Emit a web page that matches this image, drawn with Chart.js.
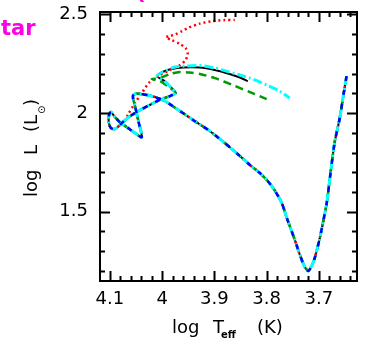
<!DOCTYPE html>
<html>
<head>
<meta charset="utf-8">
<script src="https://cdn.jsdelivr.net/npm/chart.js@4.4.0/dist/chart.umd.min.js"></script>
<style>
  html, body { margin: 0; padding: 0; background: #fff; }
  canvas { display: block; }
</style>
</head>
<body>
<canvas id="hr" width="367" height="345"></canvas>
<script>
// axis ticks
const xTickValues = [4.1, 4.0, 3.9, 3.8, 3.7];
const xTickLabels = ['4.1', '4', '3.9', '3.8', '3.7'];
const yTickValues = [1.5, 2.0, 2.5];
const yTickLabels = ['1.5', '2', '2.5'];

// shared part of all tracks: Hayashi line, Henyey line, ZAMS loop
const commonT = [3.647, 3.653, 3.660, 3.670, 3.677, 3.685, 3.693, 3.699, 3.708, 3.714, 3.720, 3.727, 3.737, 3.746, 3.760,
  3.771, 3.785, 3.798, 3.813, 3.832, 3.851, 3.880, 3.909, 3.938, 3.966, 3.995, 4.020, 4.039, 4.050, 4.056,
  4.052, 4.045, 4.039, 4.052, 4.068, 4.081, 4.092, 4.098, 4.102, 4.102, 4.098, 4.090, 4.083];
const commonL = [2.187, 2.091, 1.975, 1.848, 1.711, 1.544, 1.433, 1.357, 1.265, 1.225, 1.200, 1.220, 1.286, 1.357, 1.458,
  1.544, 1.610, 1.656, 1.696, 1.737, 1.782, 1.848, 1.909, 1.960, 2.010, 2.061, 2.086, 2.096, 2.099, 2.086,
  2.036, 1.954, 1.878, 1.899, 1.929, 1.954, 1.985, 2.005, 1.985, 1.949, 1.924, 1.919, 1.934];

// main sequence up to the hook (all but red)
const msT = [4.073, 4.058, 4.039, 4.020, 4.001, 3.985, 3.974];
const msL = [1.960, 1.990, 2.020, 2.046, 2.071, 2.086, 2.101];

// hook (black, cyan)
const hookT = [3.982, 3.995, 4.010];
const hookL = [2.127, 2.162, 2.187];

// endings
const blackT = [3.999, 3.982, 3.960, 3.928, 3.899, 3.871, 3.851, 3.836];
const blackL = [2.208, 2.223, 2.231, 2.231, 2.218, 2.198, 2.180, 2.162];
const cyanT = [3.999, 3.976, 3.957, 3.928, 3.899, 3.865, 3.832, 3.800, 3.775, 3.756];
const cyanL = [2.208, 2.233, 2.238, 2.241, 2.228, 2.203, 2.177, 2.142, 2.111, 2.076];
const greenT = [3.985, 4.004, 4.020, 4.004, 3.985, 3.966, 3.947, 3.928, 3.899, 3.865, 3.832, 3.800];
const greenL = [2.127, 2.162, 2.172, 2.177, 2.198, 2.208, 2.205, 2.198, 2.177, 2.142, 2.106, 2.071];
const redT = [4.075, 4.066, 4.052, 4.039, 4.024, 4.004, 3.985, 3.966, 3.955, 3.951, 3.955, 3.966, 3.982, 3.993,
  3.985, 3.974, 3.962, 3.951, 3.928, 3.903, 3.880, 3.861];
const redL = [1.944, 1.990, 2.051, 2.101, 2.157, 2.193, 2.218, 2.243, 2.269, 2.299, 2.329, 2.350, 2.370, 2.385,
  2.390, 2.400, 2.415, 2.431, 2.453, 2.466, 2.471, 2.471];

function pts(ts, ls) {
  return ts.map((t, i) => ({ x: t, y: ls[i] }));
}

const common = pts(commonT, commonL);
const ms = pts(msT, msL);
const hook = pts(hookT, hookL);

function track(data, color, dash, width) {
  return {
    data: data,
    showLine: true,
    borderColor: color,
    borderWidth: width,
    borderDash: dash,
    pointRadius: 0,
    tension: 0.25,
    fill: false
  };
}

// axis frame with inward ticks, axis titles
const framePlugin = {
  id: 'frame',
  afterDatasetsDraw(chart) {
    const { ctx, chartArea: a, scales: { x, y } } = chart;
    ctx.save();
    ctx.strokeStyle = '#000';
    ctx.lineWidth = 2;
    ctx.strokeRect(a.left, a.top, a.right - a.left, a.bottom - a.top);
    ctx.beginPath();
    for (let k = 182; k <= 205; k++) {
      const v = k / 50;
      const px = Math.round(x.getPixelForValue(v)) + 0.5;
      const len = k % 5 === 0 ? 10 : 5;
      ctx.moveTo(px, a.bottom); ctx.lineTo(px, a.bottom - len);
      ctx.moveTo(px, a.top); ctx.lineTo(px, a.top + len);
    }
    for (let k = 12; k <= 25; k++) {
      const v = k / 10;
      const py = Math.round(y.getPixelForValue(v)) + 0.5;
      const len = k % 5 === 0 ? 10 : 5;
      ctx.moveTo(a.left, py); ctx.lineTo(a.left + len, py);
      ctx.moveTo(a.right, py); ctx.lineTo(a.right - len, py);
    }
    ctx.stroke();

    // x title
    ctx.fillStyle = '#000';
    ctx.textBaseline = 'alphabetic';
    ctx.textAlign = 'left';
    ctx.font = '18px "DejaVu Sans"';
    ctx.fillText('log', 172, 333);
    ctx.fillText('T', 213, 333);
    ctx.fillText('(K)', 257, 333);
    ctx.font = 'bold 10px "DejaVu Sans"';
    ctx.fillText('eff', 221, 338);

    // y title, rotated
    ctx.save();
    ctx.translate(37, 0);
    ctx.rotate(-Math.PI / 2);
    ctx.font = '18px "DejaVu Sans"';
    ctx.fillText('log', -197, 0);
    ctx.fillText('L', -155, 0);
    ctx.fillText('(', -132, 0);
    ctx.fillText('L', -125, 0);
    ctx.fillText(')', -106, 0);
    ctx.font = '10px "DejaVu Sans"';
    ctx.fillText('\u2299', -114, 8);
    ctx.restore();

    // cut-off title in magenta
    ctx.fillStyle = '#ff00e6';
    ctx.font = 'bold 21px "DejaVu Sans"';
    const sw = ctx.measureText('s').width;
    ctx.fillText('star', -sw + 1, 35);
    ctx.fillText('(', 136, -1);
    ctx.restore();
  }
};

Chart.defaults.font.family = '"DejaVu Sans"';
Chart.defaults.font.size = 18;
Chart.defaults.color = '#000';

new Chart(document.getElementById('hr'), {
  type: 'scatter',
  data: {
    datasets: [
      track(common.concat(ms), '#0000ff', [5, 9], 2.5),
      track(common.concat(ms, hook, pts(cyanT, cyanL)), '#00ffff', [9, 3, 2, 3], 3),
      track(common.concat(ms, pts(greenT, greenL)), '#009a00', [8, 5], 2.5),
      track(common.concat(pts(redT, redL)), '#ff0000', [2, 3], 2.5),
      track(common.concat(ms, hook, pts(blackT, blackL)), '#000000', [], 2)
    ]
  },
  options: {
    responsive: false,
    animation: false,
    layout: { padding: { top: 12, right: 10, left: 0, bottom: 0 } },
    plugins: { legend: { display: false }, tooltip: { enabled: false } },
    scales: {
      x: {
        type: 'linear',
        reverse: true,
        min: 3.627,
        max: 4.119,
        border: { display: false },
        grid: { display: false, drawTicks: false },
        afterBuildTicks: s => { s.ticks = xTickValues.map(v => ({ value: v })); },
        afterFit: s => { s.height = 64; s.paddingLeft = 0; s.paddingRight = 0; },
        ticks: { padding: 8, maxRotation: 0, callback: (v, i) => xTickLabels[i] }
      },
      y: {
        type: 'linear',
        min: 1.149,
        max: 2.512,
        border: { display: false },
        grid: { display: false, drawTicks: false },
        afterBuildTicks: s => { s.ticks = yTickValues.map(v => ({ value: v })); },
        afterFit: s => { s.width = 100; s.paddingTop = 0; s.paddingBottom = 0; },
        ticks: { padding: 12, callback: (v, i) => yTickLabels[i] }
      }
    }
  },
  plugins: [framePlugin]
});
</script>
</body>
</html>
